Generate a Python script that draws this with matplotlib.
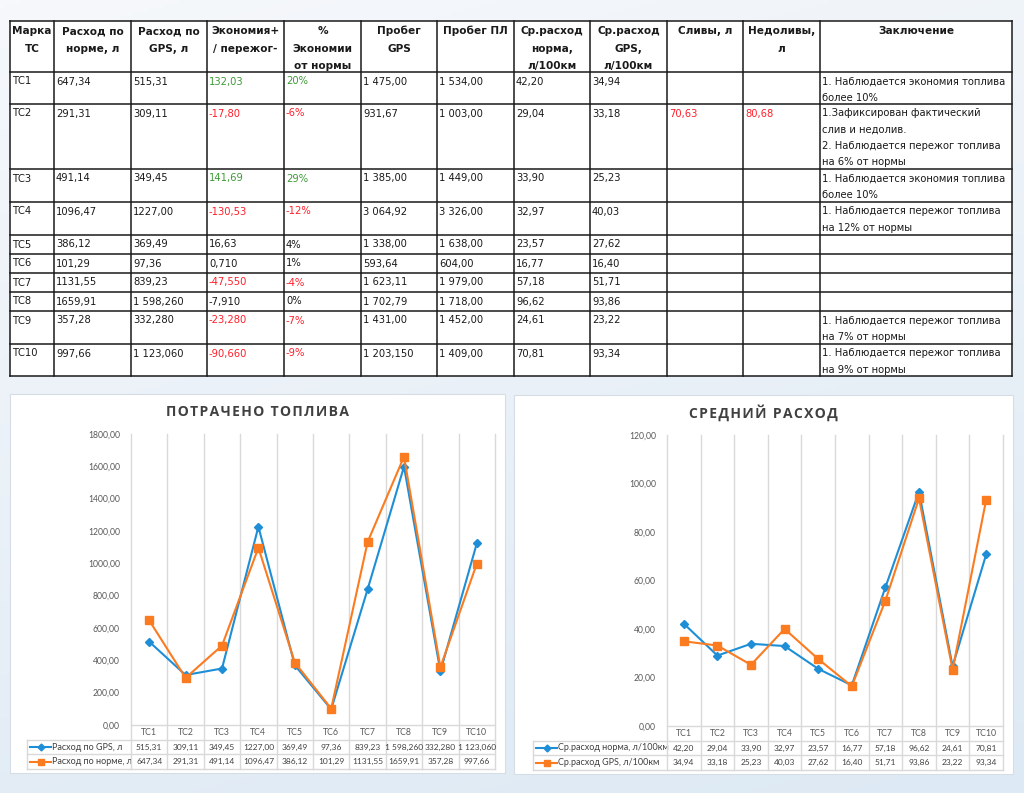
import matplotlib
matplotlib.use('Agg')
import matplotlib.pyplot as plt
import numpy as np
from matplotlib.transforms import blended_transform_factory
from matplotlib.patches import Rectangle
from matplotlib.colors import LinearSegmentedColormap

# ---------------- data ----------------
cats = ['ТС1', 'ТС2', 'ТС3', 'ТС4', 'ТС5', 'ТС6', 'ТС7', 'ТС8', 'ТС9', 'ТС10']
rashod_norma = ['647,34', '291,31', '491,14', '1096,47', '386,12', '101,29', '1131,55', '1659,91', '357,28', '997,66']
rashod_gps = ['515,31', '309,11', '349,45', '1227,00', '369,49', '97,36', '839,23', '1 598,260', '332,280', '1 123,060']
ekonomiya = ['132,03', '-17,80', '141,69', '-130,53', '16,63', '0,710', '-47,550', '-7,910', '-23,280', '-90,660']
ekonomiya_pct = ['20%', '-6%', '29%', '-12%', '4%', '1%', '-4%', '0%', '-7%', '-9%']
ekon_status = ['g', 'r', 'g', 'r', 'k', 'k', 'r', 'k', 'r', 'r']
probeg_gps = ['1 475,00', '931,67', '1 385,00', '3 064,92', '1 338,00', '593,64', '1 623,11', '1 702,79', '1 431,00', '1 203,150']
probeg_pl = ['1 534,00', '1 003,00', '1 449,00', '3 326,00', '1 638,00', '604,00', '1 979,00', '1 718,00', '1 452,00', '1 409,00']
sr_norma = ['42,20', '29,04', '33,90', '32,97', '23,57', '16,77', '57,18', '96,62', '24,61', '70,81']
sr_gps = ['34,94', '33,18', '25,23', '40,03', '27,62', '16,40', '51,71', '93,86', '23,22', '93,34']
slivy = ['', '70,63', '', '', '', '', '', '', '', '']
nedolivy = ['', '80,68', '', '', '', '', '', '', '', '']
zakl = ['1. Наблюдается экономия топлива\nболее 10%',
        '1.Зафиксирован фактический\nслив и недолив.\n2. Наблюдается пережог топлива\nна 6% от нормы',
        '1. Наблюдается экономия топлива\nболее 10%',
        '1. Наблюдается пережог топлива\nна 12% от нормы',
        '', '', '', '',
        '1. Наблюдается пережог топлива\nна 7% от нормы',
        '1. Наблюдается пережог топлива\nна 9% от нормы']
headers = [['Марка', 'ТС'], ['Расход по', 'норме, л'], ['Расход по', 'GPS, л'],
           ['Экономия+', '/ пережог-'], ['%', 'Экономии', 'от нормы'], ['Пробег', 'GPS'],
           ['Пробег ПЛ'], ['Ср.расход', 'норма,', 'л/100км'], ['Ср.расход', 'GPS,', 'л/100км'],
           ['Сливы, л'], ['Недоливы,', 'л'], ['Заключение']]
title1 = 'ПОТРАЧЕНО ТОПЛИВА'
title2 = 'СРЕДНИЙ РАСХОД'
name_gps1 = 'Расход по GPS, л'
name_norm1 = 'Расход по норме, л'
name_norm2 = 'Ср.расход норма, л/100км'
name_gps2 = 'Ср.расход GPS, л/100км'


def num(s):
    return float(s.replace(' ', '').replace(',', '.'))


# ---------------- figure ----------------
W, H = 1024, 793
fig = plt.figure(figsize=(W / 100, H / 100), dpi=100)
base = fig.add_axes([0, 0, 1, 1])
base.axis('off')

# background gradient
gy, gx = np.mgrid[0:1:200j, 0:1:200j]
grad = 0.75 * gy + 0.25 * gx
cmap_bg = LinearSegmentedColormap.from_list('bg', ['#f6f8fb', '#dde9f4'])
base.imshow(grad, extent=[0, W, H, 0], aspect='auto', cmap=cmap_bg, zorder=0)

BLUE = '#1e8fd6'
ORANGE = '#fb7b21'
GREEN = '#3d9b35'
RED = '#ff1f2a'
TXT = '#1a1a1a'
TFONT = 'DejaVu Sans'

# ---------------- table ----------------
col_x = [10, 54, 131, 207, 284, 361, 437, 514, 590, 667, 743, 820, 1012]
row_y = [21, 72, 104, 169, 202, 235, 254, 273, 292, 311, 344, 376]
base.add_patch(Rectangle((col_x[0], row_y[0]), col_x[-1] - col_x[0], row_y[-1] - row_y[0],
                         facecolor='white', edgecolor='none', zorder=1))
for x in col_x:
    base.plot([x, x], [row_y[0], row_y[-1]], color=TXT, lw=1.1, zorder=3)
for y in row_y:
    base.plot([col_x[0], col_x[-1]], [y, y], color=TXT, lw=1.1, zorder=3)

for j, hl in enumerate(headers):
    cx = (col_x[j] + col_x[j + 1]) / 2
    for k, line in enumerate(hl):
        base.text(cx, row_y[0] + 13.5 + 17.3 * k, line, ha='center', va='baseline',
                  fontsize=7.6, fontweight='bold', color=TXT, family=TFONT, zorder=4)

cmap_status = {'g': GREEN, 'r': RED, 'k': TXT}
columns = [cats, rashod_norma, rashod_gps, ekonomiya, ekonomiya_pct, probeg_gps, probeg_pl,
           sr_norma, sr_gps, slivy, nedolivy, zakl]
for i in range(10):
    ytop = row_y[i + 1]
    for j, col in enumerate(columns):
        s = col[i]
        if not s:
            continue
        if j in (3, 4):
            c = cmap_status[ekon_status[i]]
        elif j in (9, 10):
            c = RED
        else:
            c = TXT
        for k, line in enumerate(s.split('\n')):
            base.text(col_x[j] + 2, ytop + 12.5 + 16.3 * k, line, ha='left', va='baseline',
                      fontsize=7.2, color=c, family=TFONT, zorder=4)


# ---------------- charts ----------------
def fmt(v):
    return f'{v:.2f}'.replace('.', ',')


def spaced(t):
    return '\u200a'.join(t)


def chart(panel, plot_box, tab_left, row_lines, ymax, ystep, s_blue, s_orange,
          n_blue, n_orange, title):
    px0, py0, px1, py1 = panel
    base.add_patch(Rectangle((px0, py0), px1 - px0, py1 - py0, facecolor='white',
                             edgecolor='#d6dde4', lw=0.8, zorder=1))
    base.text((px0 + px1) / 2, py0 + 18, spaced(title), ha='center', va='center',
              fontsize=10, fontweight='bold', color='#404040',
              family=['Open Sans', 'DejaVu Sans'], zorder=4)
    x0, y0, x1, y1 = plot_box
    ax = fig.add_axes([x0 / W, 1 - y1 / H, (x1 - x0) / W, (y1 - y0) / H])
    ax.set_facecolor('none')
    xs = np.arange(1, len(cats) + 1)
    vb = [num(s) for s in s_blue]
    vo = [num(s) for s in s_orange]
    ax.plot(xs, vb, color=BLUE, lw=1.5, marker='D', ms=3.8, zorder=5)
    ax.plot(xs, vo, color=ORANGE, lw=1.5, marker='s', ms=5.5, zorder=6)
    ax.set_xlim(0.5, len(cats) + 0.5)
    ax.set_ylim(0, ymax)
    ax.set_xticks([])
    yt = np.arange(0, ymax + 1, ystep)
    ax.set_yticks(yt)
    ax.set_yticklabels([fmt(v) for v in yt], family='Lato')
    ax.tick_params(axis='y', length=0, pad=8, labelsize=6.2, labelcolor='#595959')
    for sp in ax.spines.values():
        sp.set_visible(False)
    tr = blended_transform_factory(ax.transData, base.transData)
    gc = '#d9d9d9'
    for b in np.arange(0.5, len(cats) + 1):
        ax.plot([b, b], [y0, row_lines[-1]], transform=tr, color=gc, lw=1, clip_on=False, zorder=1)
    ax.plot([0.5, len(cats) + 0.5], [y1, y1], transform=tr, color=gc, lw=1, clip_on=False, zorder=1)
    for ry in row_lines:
        base.plot([tab_left, x1], [ry, ry], color=gc, lw=1, zorder=3)
    base.plot([tab_left, tab_left], [row_lines[0], row_lines[-1]], color=gc, lw=1, zorder=3)
    cy = (y1 + row_lines[0]) / 2
    r1 = (row_lines[0] + row_lines[1]) / 2
    r2 = (row_lines[1] + row_lines[2]) / 2
    for i, c in enumerate(cats):
        ax.text(i + 1, cy, c, transform=tr, ha='center', va='center', fontsize=6.3,
                color='#595959', family='Lato', clip_on=False)
        ax.text(i + 1, r1, s_blue[i], transform=tr, ha='center', va='center', fontsize=6.0,
                color='#404040', family='Lato', clip_on=False)
        ax.text(i + 1, r2, s_orange[i], transform=tr, ha='center', va='center', fontsize=6.0,
                color='#404040', family='Lato', clip_on=False)
    for ry, col, mk, ms, nm in [(r1, BLUE, 'D', 3.5, n_blue), (r2, ORANGE, 's', 5, n_orange)]:
        base.plot([tab_left + 3, tab_left + 24], [ry, ry], color=col, lw=1.5, zorder=4)
        base.plot([tab_left + 13.5], [ry], color=col, marker=mk, ms=ms, zorder=5)
        base.text(tab_left + 25, ry, nm, ha='left', va='center', fontsize=6.5,
                  color='#404040', family='Lato', zorder=4)
    return ax


chart((10, 394, 505, 773), (131, 434, 495, 725), 27, [740, 754, 769], 1800, 200,
      rashod_gps, rashod_norma, name_gps1, name_norm1, title1)
chart((514, 395, 1013, 774), (667, 435, 1003, 726), 533, [741, 755, 770], 120, 20,
      sr_norma, sr_gps, name_norm2, name_gps2, title2)

base.set_xlim(0, W)
base.set_ylim(H, 0)
fig.savefig('out.png', dpi=100)
